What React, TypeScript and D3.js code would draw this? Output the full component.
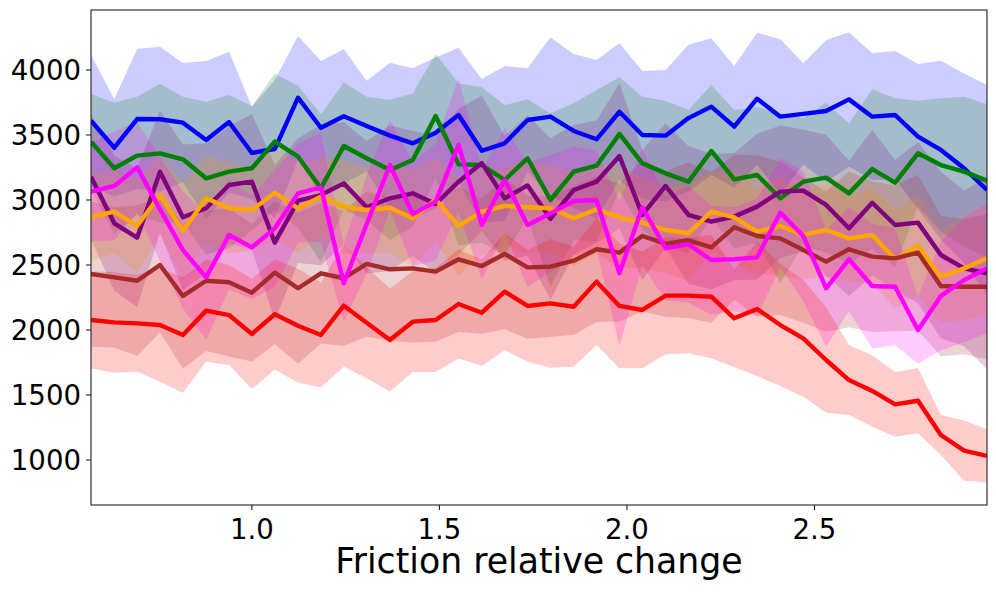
import React from "react";
import * as d3 from "d3";

// friction multiplier for each evaluation point
const frictionX = [
  0.571, 0.633, 0.694, 0.755, 0.816, 0.878, 0.939, 1.0, 1.061, 1.123,
  1.184, 1.245, 1.306, 1.368, 1.429, 1.49, 1.551, 1.613, 1.674, 1.735,
  1.796, 1.858, 1.919, 1.98, 2.041, 2.103, 2.164, 2.225, 2.286, 2.347,
  2.409, 2.47, 2.531, 2.592, 2.654, 2.715, 2.776, 2.837, 2.899, 2.96,
];

const blueMean = [
  3610, 3402, 3623, 3621, 3595, 3462, 3600, 3362, 3392, 3787, 3556, 3644, 3569, 3495,
  3436, 3518, 3654, 3379, 3436, 3615, 3641, 3531, 3467, 3679, 3500, 3495,
  3630, 3718, 3564, 3779, 3641, 3662, 3685, 3774, 3641, 3654, 3487, 3385, 3244, 3077,
];
const blueStd = [
  505, 375, 538, 558, 459, 607, 541, 356, 531, 475, 513, 517, 349, 561,
  577, 579, 518, 552, 595, 398, 611, 592, 610, 526, 492, 505,
  564, 526, 467, 508, 595, 389, 546, 516, 487, 492, 559, 687, 730, 808,
];

const greenMean = [
  3449, 3244, 3341, 3359, 3313, 3167, 3218, 3244, 3449, 3333, 3090, 3415, 3321, 3231,
  3308, 3646, 3274, 3269, 3154, 3321, 3000, 3218, 3264, 3508, 3282, 3205,
  3141, 3377, 3159, 3192, 3013, 3141, 3172, 3051, 3238, 3133, 3359, 3269, 3218, 3149,
];
const greenStd = [
  366, 505, 454, 533, 482, 589, 590, 479, 525, 544, 569, 488, 474, 538,
  513, 477, 623, 598, 577, 453, 667, 526, 582, 436, 513, 559,
  551, 508, 533, 521, 654, 487, 577, 539, 613, 649, 405, 513, 577, 589,
];

const purpleMean = [
  3179, 2821, 2710, 3218, 2867, 2936, 3115, 3141, 2672, 2995, 3038, 3128, 2944, 3013,
  3051, 2969, 3141, 3284, 3013, 3112, 2855, 3077, 3141, 3338, 2885, 3108,
  2885, 2833, 2872, 2949, 3064, 3072, 2962, 2782, 2979, 2808, 2826, 2577, 2474, 2436,
];
const purpleStd = [
  480, 520, 533, 470, 560, 500, 450, 520, 600, 480, 540, 470, 510, 560,
  480, 530, 560, 520, 480, 540, 620, 500, 470, 560, 500, 480,
  530, 520, 490, 560, 510, 470, 540, 520, 560, 500, 620, 640, 600, 740,
];

const orangeMean = [
  2867, 2910, 2800, 3038, 2762, 3013, 2936, 2923, 3056, 2936, 3026, 2949, 2923, 2940,
  2859, 3005, 2800, 2910, 2954, 2944, 2936, 2859, 2928, 2867, 2826, 2769,
  2744, 2910, 2867, 2756, 2800, 2731, 2769, 2705, 2731, 2544, 2646, 2410, 2474, 2551,
];
const orangeStd = [
  340, 320, 360, 300, 380, 330, 350, 310, 370, 340, 300, 360, 330, 350,
  370, 320, 380, 340, 300, 360, 330, 370, 340, 390, 350, 330,
  370, 308, 350, 330, 380, 340, 360, 330, 370, 380, 380, 350, 400, 420,
];

const brownMean = [
  2431, 2405, 2379, 2500, 2262, 2379, 2367, 2287, 2441, 2321, 2436, 2398, 2508, 2467,
  2474, 2449, 2544, 2492, 2585, 2482, 2487, 2533, 2621, 2595, 2723, 2662,
  2690, 2636, 2790, 2723, 2705, 2615, 2526, 2621, 2564, 2551, 2595, 2338, 2333, 2333,
];
const brownStd = [
  560, 540, 580, 520, 560, 540, 570, 530, 550, 580, 540, 520, 560, 550,
  570, 540, 560, 520, 580, 550, 540, 570, 560, 530, 580, 560,
  600, 580, 560, 620, 590, 560, 540, 600, 580, 560, 600, 540, 520, 560,
];

const magentaMean = [
  3064, 3108, 3251, 2930, 2615, 2405, 2731, 2636, 2782, 3051, 3097, 2359, 2815, 3269,
  2891, 2987, 3423, 2808, 3154, 2808, 2897, 2992, 3000, 2436, 2944, 2628,
  2660, 2538, 2544, 2559, 2903, 2723, 2321, 2544, 2338, 2333, 2000, 2262, 2385, 2474,
];
const magentaStd = [
  380, 420, 350, 400, 450, 480, 420, 400, 450, 380, 420, 300, 380, 350,
  400, 450, 520, 420, 400, 480, 450, 420, 380, 560, 450, 400,
  450, 420, 400, 450, 420, 500, 450, 400, 480, 450, 260, 420, 480, 500,
];

const redMean = [
  2077, 2059, 2051, 2038, 1962, 2149, 2115, 1969, 2121, 2033, 1962, 2187, 2056, 1923,
  2064, 2077, 2200, 2133, 2295, 2185, 2205, 2179, 2372, 2185, 2154, 2264,
  2264, 2256, 2090, 2162, 2038, 1936, 1769, 1615, 1531, 1428, 1456, 1192, 1072, 1031,
];
const redStd = [
  372, 387, 372, 436, 444, 393, 384, 425, 424, 438, 403, 469, 428, 397,
  387, 400, 420, 410, 450, 430, 495, 461, 487, 480, 449, 450,
  443, 474, 377, 516, 469, 449, 405, 269, 275, 249, 251, 154, 231, 205,
];

const xTicks = [1.0, 1.5, 2.0, 2.5];
const yTicks = [1000, 1500, 2000, 2500, 3000, 3500, 4000];

interface Series {
  color: string;
  mean: number[];
  std: number[];
}

const series: Series[] = [
  { color: "blue", mean: blueMean, std: blueStd },
  { color: "green", mean: greenMean, std: greenStd },
  { color: "purple", mean: purpleMean, std: purpleStd },
  { color: "orange", mean: orangeMean, std: orangeStd },
  { color: "brown", mean: brownMean, std: brownStd },
  { color: "magenta", mean: magentaMean, std: magentaStd },
  { color: "red", mean: redMean, std: redStd },
];

const width = 996;
const height = 592;
const plot = { left: 91, right: 987, top: 10, bottom: 505 };
const font = "'DejaVu Sans', sans-serif";
const tickFont = 27.6;

export default function App() {
  const x = d3
    .scaleLinear()
    .domain(d3.extent(frictionX) as [number, number])
    .range([plot.left, plot.right]);
  const y = d3.scaleLinear().domain([653.8, 4461.5]).range([plot.bottom, plot.top]);

  const band = (s: Series) =>
    d3
      .area<number>()
      .x((_, i) => x(frictionX[i]))
      .y0((m, i) => y(m - s.std[i]))
      .y1((m, i) => y(m + s.std[i]))(s.mean) || "";

  const line = d3
    .line<number>()
    .x((_, i) => x(frictionX[i]))
    .y((m) => y(m));

  return (
    <svg
      width={width}
      height={height}
      style={{ position: "absolute", left: 0, top: 0, background: "white" }}
    >
      <defs>
        <clipPath id="plotClip">
          <rect
            x={plot.left}
            y={plot.top}
            width={plot.right - plot.left}
            height={plot.bottom - plot.top}
          />
        </clipPath>
      </defs>
      <g clipPath="url(#plotClip)">
        {series.map((s) => (
          <path key={"band-" + s.color} d={band(s)} fill={s.color} fillOpacity={0.2} />
        ))}
        {series.map((s) => (
          <path
            key={"line-" + s.color}
            d={line(s.mean) || ""}
            fill="none"
            stroke={s.color}
            strokeWidth={4.4}
            strokeLinejoin="round"
          />
        ))}
      </g>
      {/* frame */}
      <rect
        x={plot.left}
        y={plot.top}
        width={plot.right - plot.left}
        height={plot.bottom - plot.top}
        fill="none"
        stroke="#222"
        strokeWidth={1.1}
      />
      {/* x ticks */}
      {xTicks.map((t) => (
        <g key={"x" + t}>
          <line x1={x(t)} x2={x(t)} y1={plot.bottom} y2={plot.bottom + 5} stroke="#222" strokeWidth={1.1} />
          <text x={x(t)} y={538.5} textAnchor="middle" fontFamily={font} fontSize={tickFont} fill="black">
            {t.toFixed(1)}
          </text>
        </g>
      ))}
      {/* y ticks */}
      {yTicks.map((t) => (
        <g key={"y" + t}>
          <line x1={plot.left - 5} x2={plot.left} y1={y(t)} y2={y(t)} stroke="#222" strokeWidth={1.1} />
          <text
            x={plot.left - 10}
            y={y(t) + 10}
            textAnchor="end"
            fontFamily={font}
            fontSize={tickFont}
            fill="black"
          >
            {t}
          </text>
        </g>
      ))}
      <text
        x={(plot.left + plot.right) / 2}
        y={573}
        textAnchor="middle"
        fontFamily={font}
        fontSize={34.7}
        fill="black"
      >
        Friction relative change
      </text>
    </svg>
  );
}
